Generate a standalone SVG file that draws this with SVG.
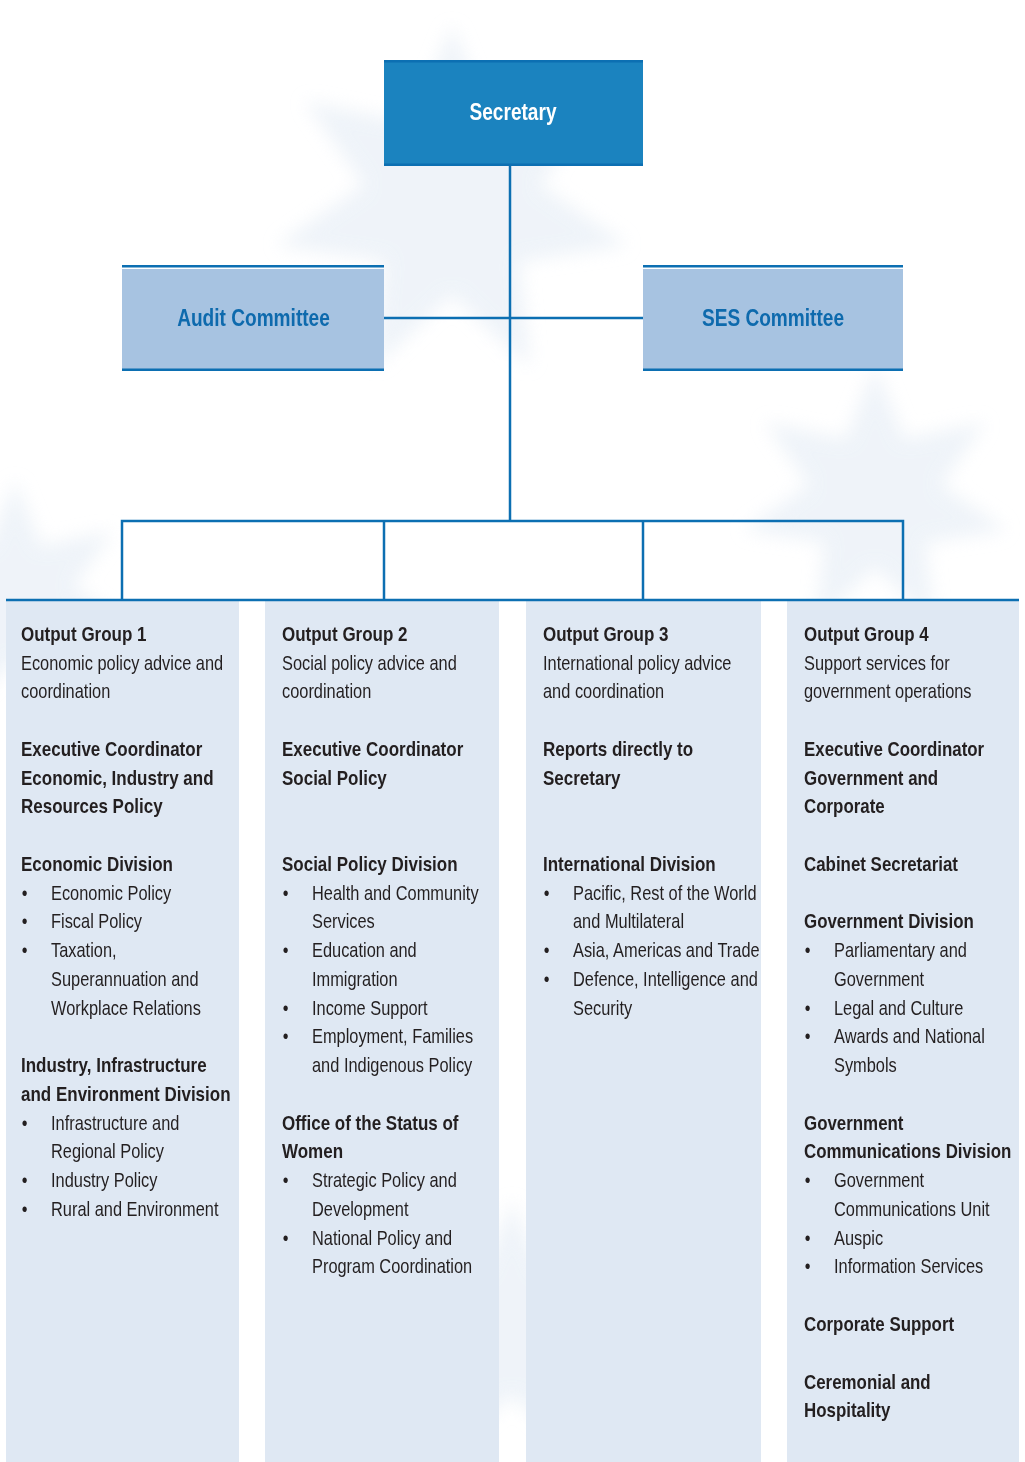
<svg xmlns="http://www.w3.org/2000/svg" width="1025" height="1462" viewBox="0 0 1025 1462">
<defs>
<filter id="blur" x="-30%" y="-30%" width="160%" height="160%"><feGaussianBlur stdDeviation="9"/></filter>
<polygon id="star" points="0,-100 21.7,-45.1 81.8,-57.8 48.8,-11.1 97.5,22.3 37.7,31.3 43.4,90.1 0,50 -43.4,90.1 -37.7,31.3 -97.5,22.3 -48.8,-11.1 -81.8,-57.8 -21.7,-45.1"/>
</defs>
<style>
text{font-family:"Liberation Sans",Arial,sans-serif;fill:#231f20;font-size:20px}
.b{font-weight:bold}
.title{font-weight:bold;font-size:23px}
.wt{fill:#ffffff}
.bt{fill:#0e6aad}
.line{stroke:#0c6fb2;stroke-width:2.5;fill:none}
.col{fill:#dfe8f3}
.bg{fill:#e4ecf5}
</style>
<rect width="1025" height="1462" fill="#ffffff"/>
<g id="background" filter="url(#blur)" opacity="0.6">
<use href="#star" class="bg" transform="translate(452,205) scale(1.8)"/>
<use href="#star" class="bg" transform="translate(875,500) scale(1.35)"/>
<use href="#star" class="bg" transform="translate(15,600) scale(1.2)"/>
<use href="#star" class="bg" transform="translate(512,1330) scale(1.3)"/>
</g>
<g id="columns-bg">
<rect class="col" x="6" y="600" width="233" height="862"/>
<rect class="col" x="265" y="600" width="234" height="862"/>
<rect class="col" x="526" y="600" width="235" height="862"/>
<rect class="col" x="787" y="600" width="232" height="862"/>
</g>
<g id="connectors">
<line class="line" x1="510" y1="166" x2="510" y2="521"/>
<line class="line" x1="384" y1="318" x2="643" y2="318"/>
<polyline class="line" points="122,600 122,521 903,521 903,600"/>
<line class="line" x1="384" y1="521" x2="384" y2="600"/>
<line class="line" x1="643" y1="521" x2="643" y2="600"/>
<line class="line" x1="6" y1="600" x2="1019" y2="600"/>
</g>
<g id="secretary">
<rect x="384" y="61" width="259" height="104" fill="#1b83bf"/>
<rect x="384" y="60" width="259" height="2.5" fill="#0c6fb2"/>
<rect x="384" y="163.5" width="259" height="2.5" fill="#0c6fb2"/>
<text class="title wt" text-anchor="middle" transform="translate(513,120) scale(0.83,1)">Secretary</text>
</g>
<g id="audit-committee">
<rect x="122" y="269" width="262" height="100" fill="#a7c3e1"/>
<rect x="122" y="265" width="262" height="2.5" fill="#0c6fb2"/>
<rect x="122" y="368.5" width="262" height="2.5" fill="#0c6fb2"/>
<text class="title bt" text-anchor="middle" transform="translate(253.5,326) scale(0.83,1)">Audit Committee</text>
</g>
<g id="ses-committee">
<rect x="643" y="269" width="260" height="100" fill="#a7c3e1"/>
<rect x="643" y="265" width="260" height="2.5" fill="#0c6fb2"/>
<rect x="643" y="368.5" width="260" height="2.5" fill="#0c6fb2"/>
<text class="title bt" text-anchor="middle" transform="translate(773,326) scale(0.83,1)">SES Committee</text>
</g>
<g id="output-group-1" transform="translate(21,0)">
<g transform="scale(0.85,1)">
<text class="b" x="0" y="641">Output Group 1</text>
<text class="b" x="0" y="756">Executive Coordinator</text>
<text class="b" x="0" y="785">Economic, Industry and</text>
<text class="b" x="0" y="813.5">Resources Policy</text>
<text class="b" x="0" y="871">Economic Division</text>
<text class="b" x="0" y="1072">Industry, Infrastructure</text>
<text class="b" x="0" y="1101">and Environment Division</text>
</g>
<g transform="scale(0.82,1)">
<text x="0" y="670">Economic policy advice and</text>
<text x="0" y="698.5">coordination</text>
<text x="1" y="900">•</text><text x="36.6" y="900">Economic Policy</text>
<text x="1" y="928.5">•</text><text x="36.6" y="928.5">Fiscal Policy</text>
<text x="1" y="957">•</text><text x="36.6" y="957">Taxation,</text>
<text x="36.6" y="986">Superannuation and</text>
<text x="36.6" y="1015">Workplace Relations</text>
<text x="1" y="1130">•</text><text x="36.6" y="1130">Infrastructure and</text>
<text x="36.6" y="1158.5">Regional Policy</text>
<text x="1" y="1187">•</text><text x="36.6" y="1187">Industry Policy</text>
<text x="1" y="1216">•</text><text x="36.6" y="1216">Rural and Environment</text>
</g>
</g>
<g id="output-group-2" transform="translate(282,0)">
<g transform="scale(0.85,1)">
<text class="b" x="0" y="641">Output Group 2</text>
<text class="b" x="0" y="756">Executive Coordinator</text>
<text class="b" x="0" y="785">Social Policy</text>
<text class="b" x="0" y="871">Social Policy Division</text>
<text class="b" x="0" y="1130">Office of the Status of</text>
<text class="b" x="0" y="1158.5">Women</text>
</g>
<g transform="scale(0.82,1)">
<text x="0" y="670">Social policy advice and</text>
<text x="0" y="698.5">coordination</text>
<text x="1" y="900">•</text><text x="36.6" y="900">Health and Community</text>
<text x="36.6" y="928.5">Services</text>
<text x="1" y="957">•</text><text x="36.6" y="957">Education and</text>
<text x="36.6" y="986">Immigration</text>
<text x="1" y="1015">•</text><text x="36.6" y="1015">Income Support</text>
<text x="1" y="1043.5">•</text><text x="36.6" y="1043.5">Employment, Families</text>
<text x="36.6" y="1072">and Indigenous Policy</text>
<text x="1" y="1187">•</text><text x="36.6" y="1187">Strategic Policy and</text>
<text x="36.6" y="1216">Development</text>
<text x="1" y="1245">•</text><text x="36.6" y="1245">National Policy and</text>
<text x="36.6" y="1273.5">Program Coordination</text>
</g>
</g>
<g id="output-group-3" transform="translate(543,0)">
<g transform="scale(0.85,1)">
<text class="b" x="0" y="641">Output Group 3</text>
<text class="b" x="0" y="756">Reports directly to</text>
<text class="b" x="0" y="785">Secretary</text>
<text class="b" x="0" y="871">International Division</text>
</g>
<g transform="scale(0.82,1)">
<text x="0" y="670">International policy advice</text>
<text x="0" y="698.5">and coordination</text>
<text x="1" y="900">•</text><text x="36.6" y="900">Pacific, Rest of the World</text>
<text x="36.6" y="928.5">and Multilateral</text>
<text x="1" y="957">•</text><text x="36.6" y="957">Asia, Americas and Trade</text>
<text x="1" y="986">•</text><text x="36.6" y="986">Defence, Intelligence and</text>
<text x="36.6" y="1015">Security</text>
</g>
</g>
<g id="output-group-4" transform="translate(804,0)">
<g transform="scale(0.845,1)">
<text class="b" x="0" y="641">Output Group 4</text>
<text class="b" x="0" y="756">Executive Coordinator</text>
<text class="b" x="0" y="785">Government and</text>
<text class="b" x="0" y="813.5">Corporate</text>
<text class="b" x="0" y="871">Cabinet Secretariat</text>
<text class="b" x="0" y="928.5">Government Division</text>
<text class="b" x="0" y="1130">Government</text>
<text class="b" x="0" y="1158.5">Communications Division</text>
<text class="b" x="0" y="1331">Corporate Support</text>
<text class="b" x="0" y="1389">Ceremonial and</text>
<text class="b" x="0" y="1417.5">Hospitality</text>
</g>
<g transform="scale(0.82,1)">
<text x="0" y="670">Support services for</text>
<text x="0" y="698.5">government operations</text>
<text x="1" y="957">•</text><text x="36.6" y="957">Parliamentary and</text>
<text x="36.6" y="986">Government</text>
<text x="1" y="1015">•</text><text x="36.6" y="1015">Legal and Culture</text>
<text x="1" y="1043.5">•</text><text x="36.6" y="1043.5">Awards and National</text>
<text x="36.6" y="1072">Symbols</text>
<text x="1" y="1187">•</text><text x="36.6" y="1187">Government</text>
<text x="36.6" y="1216">Communications Unit</text>
<text x="1" y="1245">•</text><text x="36.6" y="1245">Auspic</text>
<text x="1" y="1273.5">•</text><text x="36.6" y="1273.5">Information Services</text>
</g>
</g>
</svg>
